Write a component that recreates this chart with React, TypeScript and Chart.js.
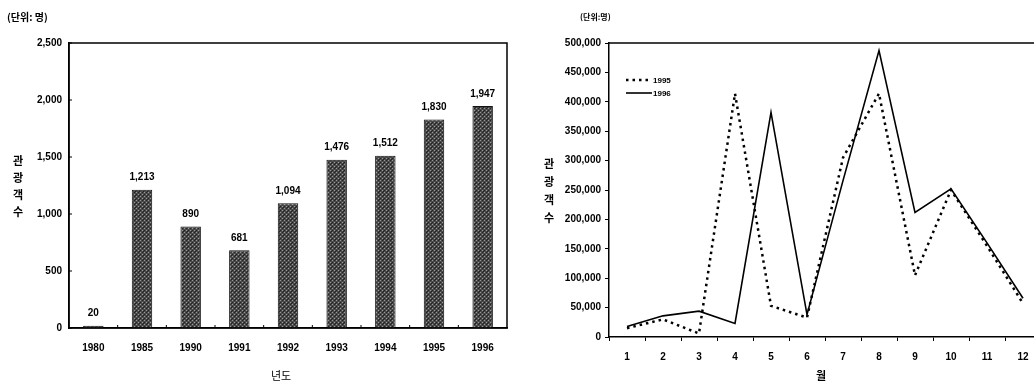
import React, { useEffect, useRef } from "react";
import { Chart, registerables } from "chart.js";

Chart.register(...registerables);

const years = ["1980", "1985", "1990", "1991", "1992", "1993", "1994", "1995", "1996"];
const visitorsByYear = [20, 1213, 890, 681, 1094, 1476, 1512, 1830, 1947];

const months = ["1", "2", "3", "4", "5", "6", "7", "8", "9", "10", "11", "12"];
const visitors1995 = [15000, 30000, 6000, 414000, 53000, 33000, 305000, 414000, 105000, 250000, 155000, 57000];
const visitors1996 = [18000, 36000, 44000, 23000, 382000, 38000, 266000, 487000, 212000, 252000, 160000, 66000];

const FONT = "'Liberation Sans', Arial, sans-serif";

function makePattern(): CanvasPattern | string {
  const c = document.createElement("canvas");
  c.width = 4;
  c.height = 4;
  const g = c.getContext("2d");
  if (!g) return "#555";
  g.fillStyle = "#4a4a4a";
  g.fillRect(0, 0, 4, 4);
  g.fillStyle = "#9a9a9a";
  g.fillRect(0, 0, 1, 1);
  g.fillRect(2, 2, 1, 1);
  g.fillStyle = "#222";
  g.fillRect(2, 0, 1, 1);
  g.fillRect(0, 2, 1, 1);
  g.fillRect(3, 3, 1, 1);
  const p = g.createPattern(c, "repeat");
  return p || "#555";
}

const boxPlugin = {
  id: "boxPlugin",
  afterDraw(chart: any) {
    const { ctx, chartArea } = chart;
    ctx.save();
    ctx.strokeStyle = "#000";
    ctx.lineWidth = 1.5;
    ctx.strokeRect(chartArea.left, chartArea.top, chartArea.right - chartArea.left, chartArea.bottom - chartArea.top);
    const ys = chart.scales.y;
    ctx.lineWidth = 1;
    ys.ticks.forEach((t: any) => {
      const y = ys.getPixelForValue(t.value);
      ctx.beginPath();
      ctx.moveTo(chartArea.left, y);
      ctx.lineTo(chartArea.left + 3, y);
      ctx.stroke();
    });
    const n = chart.data.labels.length;
    const w = (chartArea.right - chartArea.left) / n;
    for (let i = 1; i < n; i++) {
      const x = chartArea.left + w * i;
      ctx.beginPath();
      ctx.moveTo(x, chartArea.bottom);
      ctx.lineTo(x, chartArea.bottom - 3);
      ctx.stroke();
    }
    ctx.fillStyle = "#000";
    ctx.font = `bold 10px ${FONT}`;
    ctx.textAlign = "center";
    ctx.textBaseline = "bottom";
    const meta = chart.getDatasetMeta(0);
    meta.data.forEach((bar: any, i: number) => {
      const v = chart.data.datasets[0].data[i];
      ctx.fillText(Number(v).toLocaleString("en-US"), bar.x, bar.y - 7);
    });
    ctx.restore();
  },
};

const topLinePlugin = {
  id: "topLinePlugin",
  afterDraw(chart: any) {
    const { ctx, chartArea } = chart;
    ctx.save();
    ctx.strokeStyle = "#000";
    ctx.lineWidth = 1.5;
    ctx.beginPath();
    ctx.moveTo(chartArea.left, chartArea.top);
    ctx.lineTo(chartArea.right, chartArea.top);
    ctx.stroke();
    const lx = chartArea.left + 17;
    const ly = chartArea.top + 37;
    ctx.font = `bold 8px ${FONT}`;
    ctx.textBaseline = "middle";
    ctx.textAlign = "left";
    ctx.fillStyle = "#000";
    chart.data.datasets.forEach((ds: any, i: number) => {
      const y = ly + i * 13;
      ctx.beginPath();
      ctx.setLineDash(ds.borderDash || []);
      ctx.lineWidth = ds.borderWidth;
      ctx.lineCap = "butt";
      ctx.moveTo(lx, y);
      ctx.lineTo(lx + 26, y);
      ctx.stroke();
      ctx.setLineDash([]);
      ctx.fillText(ds.label, lx + 27, y + 0.5);
    });
    ctx.restore();
  },
};

function BarChart() {
  const ref = useRef<HTMLCanvasElement>(null);
  useEffect(() => {
    if (!ref.current) return;
    const pattern = makePattern();
    const chart = new Chart(ref.current, {
      type: "bar",
      data: {
        labels: years,
        datasets: [
          {
            label: "관광객수",
            data: visitorsByYear,
            backgroundColor: pattern as any,
            borderColor: "#111",
            borderWidth: 1,
            barPercentage: 0.42,
            categoryPercentage: 1,
          },
        ],
      },
      options: {
        animation: false,
        responsive: false,
        maintainAspectRatio: false,
        layout: { padding: { left: 0, right: 10, top: 43, bottom: 0 } },
        plugins: { legend: { display: false }, tooltip: { enabled: false } },
        scales: {
          x: {
            afterFit: (s: any) => {
              s.height = 55;
            },
            grid: { display: false, drawTicks: false },
            border: { display: true, color: "#000", width: 1.5 },
            ticks: { color: "#000", font: { family: FONT, size: 10, weight: "bold" }, padding: 14, maxRotation: 0 },
          },
          y: {
            min: 0,
            max: 2500,
            afterFit: (s: any) => {
              s.width = 69;
            },
            grid: { display: false, drawTicks: false },
            border: { display: true, color: "#000", width: 1.5 },
            ticks: {
              stepSize: 500,
              color: "#000",
              padding: 7,
              font: { family: FONT, size: 10, weight: "bold" },
              callback: (v: any) => Number(v).toLocaleString("en-US"),
            },
          },
        },
      },
      plugins: [boxPlugin],
    });
    return () => chart.destroy();
  }, []);
  return <canvas ref={ref} width={517} height={383} style={{ position: "absolute", left: 0, top: 0 }} />;
}

function LineChart() {
  const ref = useRef<HTMLCanvasElement>(null);
  useEffect(() => {
    if (!ref.current) return;
    const chart = new Chart(ref.current, {
      type: "line",
      data: {
        labels: months,
        datasets: [
          {
            label: "1995",
            data: visitors1995,
            borderColor: "#000",
            borderWidth: 2.5,
            borderDash: [2.5, 4],
            pointRadius: 0,
            tension: 0,
            fill: false,
          },
          {
            label: "1996",
            data: visitors1996,
            borderColor: "#000",
            borderWidth: 1.6,
            pointRadius: 0,
            tension: 0,
            fill: false,
          },
        ],
      },
      options: {
        animation: false,
        responsive: false,
        maintainAspectRatio: false,
        layout: { padding: { left: 0, right: 9, top: 43, bottom: 0 } },
        plugins: { legend: { display: false }, tooltip: { enabled: false } },
        scales: {
          x: {
            offset: true,
            afterFit: (s: any) => {
              s.height = 46;
            },
            grid: { drawOnChartArea: false, drawTicks: true, tickLength: 4, color: "#000", offset: true },
            border: { display: true, color: "#000", width: 1.5 },
            ticks: { color: "#000", font: { family: FONT, size: 10, weight: "bold" }, padding: 10, maxRotation: 0 },
          },
          y: {
            min: 0,
            max: 500000,
            afterFit: (s: any) => {
              s.width = 92;
            },
            grid: { drawOnChartArea: false, drawTicks: true, tickLength: 4, color: "#000" },
            border: { display: true, color: "#000", width: 1.5 },
            ticks: {
              stepSize: 50000,
              color: "#000",
              padding: 4,
              font: { family: FONT, size: 10, weight: "bold" },
              callback: (v: any) => Number(v).toLocaleString("en-US"),
            },
          },
        },
      },
      plugins: [topLinePlugin],
    });
    return () => chart.destroy();
  }, []);
  return <canvas ref={ref} width={533} height={383} style={{ position: "absolute", left: 517, top: 0 }} />;
}

const textStyle: React.CSSProperties = {
  position: "absolute",
  fontFamily: FONT,
  fontWeight: "bold",
  color: "#000",
  lineHeight: 1,
  whiteSpace: "nowrap",
};

const stackStyle: React.CSSProperties = {
  ...textStyle,
  fontFamily: "'Noto Sans CJK KR', sans-serif",
  fontSize: 11,
  display: "flex",
  flexDirection: "column",
  alignItems: "center",
};

export default function App() {
  useEffect(() => {
    document.body.style.margin = "0";
  }, []);
  return (
    <div style={{ position: "absolute", left: 0, top: 0, width: 1034, height: 383, overflow: "hidden", background: "#fff" }}>
      <BarChart />
      <LineChart />
      <div style={{ ...textStyle, fontFamily: "'Noto Sans CJK KR', sans-serif", fontSize: 10, left: 7, top: 12 }}>(단위: 명)</div>
      <div style={{ ...textStyle, fontFamily: "'Noto Sans CJK KR', sans-serif", fontSize: 8, left: 580, top: 13 }}>(단위:명)</div>
      <div style={{ ...stackStyle, left: 13, top: 152, lineHeight: "17px" }}>
        <span>관</span>
        <span>광</span>
        <span>객</span>
        <span>수</span>
      </div>
      <div style={{ ...stackStyle, left: 544, top: 154, lineHeight: "18px" }}>
        <span>관</span>
        <span>광</span>
        <span>객</span>
        <span>수</span>
      </div>
      <div style={{ ...textStyle, fontFamily: "'Noto Sans CJK KR', sans-serif", fontWeight: "normal", fontSize: 11, left: 271, top: 370 }}>년도</div>
      <div style={{ ...textStyle, fontFamily: "'Noto Sans CJK KR', sans-serif", fontSize: 11, left: 816, top: 370 }}>월</div>
    </div>
  );
}
